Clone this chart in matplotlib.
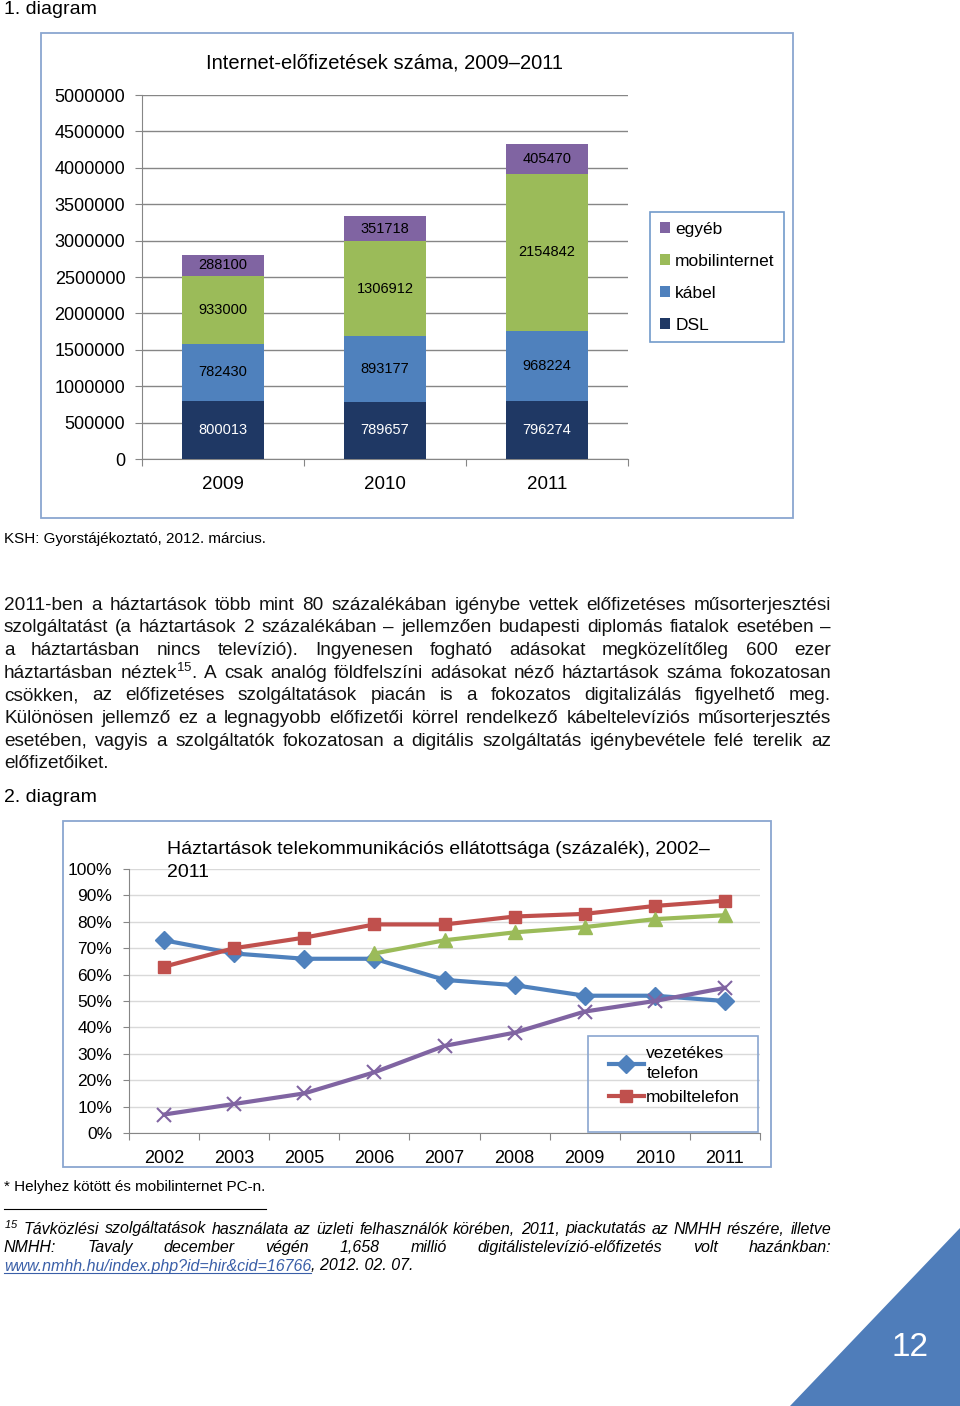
import numpy as np
import matplotlib
matplotlib.use('Agg')
import matplotlib.pyplot as plt
from matplotlib import font_manager as fm
from matplotlib.patches import Rectangle, Polygon
from matplotlib.lines import Line2D

W, H = 960, 1406

# --- 1. diagram: Internet-elofizetesek szama
years1 = ['2009', '2010', '2011']
dsl = [800013, 789657, 796274]
kabel = [782430, 893177, 968224]
mobilnet = [933000, 1306912, 2154842]
egyeb = [288100, 351718, 405470]

# --- 2. diagram: Haztartasok telekommunikacios ellatottsaga (%)
years2 = ['2002', '2003', '2005', '2006', '2007', '2008', '2009', '2010', '2011']
vezetekes = [73, 68, 66, 66, 58, 56, 52, 52, 50]
mobiltel = [63, 70, 74, 79, 79, 82, 83, 86, 88]
zold = [np.nan, np.nan, np.nan, 68, 73, 76, 78, 81, 82.5]
lila = [7, 11, 15, 23, 33, 38, 46, 50, 55]

avail = {f.name for f in fm.fontManager.ttflist}
NARROW = 'Liberation Sans Narrow' if 'Liberation Sans Narrow' in avail else 'Liberation Sans'
SANS = 'Liberation Sans'

plt.rcParams['font.family'] = [SANS, 'DejaVu Sans']
plt.rcParams['mathtext.default'] = 'regular'

fig = plt.figure(figsize=(W / 100, H / 100), dpi=100)
renderer = fig.canvas.get_renderer()


def fx(x):
    return x / W


def fy(y):
    return 1 - y / H


def text_w(s, **kw):
    t = fig.text(0, 0, s, **kw)
    w = t.get_window_extent(renderer).width
    t.remove()
    return w


def justified(lines, y0, dy, x0, x1, fs0, last_plain=True, **kw):
    # pick a size so the widest line just fits
    widest = max(text_w(l, fontsize=fs0, **kw) for l in lines)
    fs = fs0 * 0.985 * (x1 - x0) / widest
    for i, line in enumerate(lines):
        y = y0 + i * dy
        if last_plain and i == len(lines) - 1:
            fig.text(fx(x0), fy(y), line, fontsize=fs, va='center', **kw)
            continue
        words = line.split(' ')
        ws = [text_w(w, fontsize=fs, **kw) for w in words]
        gap = (x1 - x0 - sum(ws)) / max(len(words) - 1, 1)
        x = x0
        for w, wd in zip(words, ws):
            fig.text(fx(x), fy(y), w, fontsize=fs, va='center', **kw)
            x += wd + gap
    return fs


# page texts
fig.text(fx(4), fy(10), '1. diagram', fontsize=14, family=NARROW, va='center')
fig.text(fx(4), fy(539), 'KSH: Gyorstájékoztató, 2012. március.', fontsize=11, family=NARROW, va='center')
fig.text(fx(4), fy(797), '2. diagram', fontsize=14, family=NARROW, va='center')
fig.text(fx(4), fy(1187), '* Helyhez kötött és mobilinternet PC-n.', fontsize=11, family=NARROW, va='center')

para = [
    '2011-ben a háztartások több mint 80 százalékában igénybe vettek előfizetéses műsorterjesztési',
    'szolgáltatást (a háztartások 2 százalékában – jellemzően budapesti diplomás fiatalok esetében –',
    'a háztartásban nincs televízió). Ingyenesen fogható adásokat megközelítőleg 600 ezer',
    'háztartásban néztek$^{15}$. A csak analóg földfelszíni adásokat néző háztartások száma fokozatosan',
    'csökken, az előfizetéses szolgáltatások piacán is a fokozatos digitalizálás figyelhető meg.',
    'Különösen jellemző ez a legnagyobb előfizetői körrel rendelkező kábeltelevíziós műsorterjesztés',
    'esetében, vagyis a szolgáltatók fokozatosan a digitális szolgáltatás igénybevétele felé terelik az',
    'előfizetőiket.',
]
justified(para, 605, 22.7, 4, 831, 13.5, family=NARROW, color='#111111')

foot = [
    '$^{15}$ Távközlési szolgáltatások használata az üzleti felhasználók körében, 2011, piackutatás az NMHH részére, illetve',
    'NMHH: Tavaly december végén 1,658 millió digitálistelevízió-előfizetés volt hazánkban:',
]
ffs = justified(foot, 1229, 18.5, 4, 831, 11, last_plain=False, family=NARROW, style='italic')
link = 'www.nmhh.hu/index.php?id=hir&cid=16766'
lt = fig.text(fx(4), fy(1266), link, fontsize=ffs, family=NARROW, style='italic', color='#3a5fa8', va='center')
lw_ = lt.get_window_extent(renderer).width
fig.add_artist(Line2D([fx(4), fx(4 + lw_)], [fy(1273)] * 2, color='#3a5fa8', lw=0.8))
fig.text(fx(4 + lw_), fy(1266), ', 2012. 02. 07.', fontsize=ffs, family=NARROW, style='italic', va='center')
fig.add_artist(Line2D([fx(4), fx(266)], [fy(1209)] * 2, color='black', lw=0.8))

# page corner
fig.add_artist(Polygon([(fx(790), 0), (1, 0), (1, fy(1228))], closed=True,
                       transform=fig.transFigure, color='#4F7DBA', lw=0))
fig.text(fx(910), fy(1347), '12', fontsize=24, color='white', ha='center', va='center')

# chart frames
fig.add_artist(Rectangle((fx(41), fy(518)), 752 / W, 485 / H, transform=fig.transFigure,
                         fill=False, ec='#8AA6D0', lw=1.3))
fig.add_artist(Rectangle((fx(63), fy(1167)), 708 / W, 346 / H, transform=fig.transFigure,
                         fill=False, ec='#8AA6D0', lw=1.3))

# ---------------- chart 1
ax1 = fig.add_axes([fx(142), fy(459), 486 / W, 364 / H])
x1 = np.arange(len(years1))
bottom = np.zeros(len(years1))
series1 = [('DSL', dsl, '#1F3864', 'white'),
           ('kábel', kabel, '#4F81BD', 'black'),
           ('mobilinternet', mobilnet, '#9BBB59', 'black'),
           ('egyéb', egyeb, '#8064A2', 'black')]
handles = []
for name, vals, col, tcol in series1:
    b = ax1.bar(x1, vals, 0.506, bottom=bottom, color=col, label=name, zorder=3)
    ax1.bar_label(b, labels=[str(v) for v in vals], label_type='center', fontsize=10.5, color=tcol)
    bottom += np.array(vals)
    handles.append(b)

ax1.set_xlim(-0.5, 2.5)
ax1.set_ylim(0, 5000000)
ax1.set_yticks(np.arange(0, 5000001, 500000))
ax1.set_yticklabels([str(v) for v in range(0, 5000001, 500000)], fontsize=13)
ax1.set_xticks([-0.5, 0.5, 1.5, 2.5])
ax1.set_xticklabels([])
ax1.set_xticks(x1, minor=True)
ax1.set_xticklabels(years1, minor=True, fontsize=13.5)
ax1.tick_params(axis='x', which='major', length=5, color='#868686')
ax1.tick_params(axis='x', which='minor', length=0, pad=12)
ax1.tick_params(axis='y', length=5, color='#868686', pad=7)
ax1.grid(axis='y', color='#868686', lw=1, zorder=0)
for s in ['top', 'right']:
    ax1.spines[s].set_visible(False)
for s in ['left', 'bottom']:
    ax1.spines[s].set_color('#868686')
fig.text(fx(385), fy(63), 'Internet-előfizetések száma, 2009–2011', fontsize=14.5,
         family=NARROW, ha='center', va='center', color='black')

leg1 = ax1.legend(handles[::-1], [s[0] for s in series1][::-1], loc='upper left',
                  bbox_to_anchor=(fx(650), fy(212)), bbox_transform=fig.transFigure,
                  borderaxespad=0, fancybox=False, edgecolor='#4F81BD',
                  handlelength=0.6, handleheight=0.6, handletextpad=0.3,
                  labelspacing=0.98, borderpad=0.55, fontsize=12.5)
leg1.get_frame().set_linewidth(1.2)

# ---------------- chart 2
ax2 = fig.add_axes([fx(129), fy(1133), 631 / W, 264 / H])
x2 = np.arange(len(years2))
l_vez, = ax2.plot(x2, vezetekes, color='#4F81BD', lw=3, marker='D', ms=9, zorder=4)
l_mob, = ax2.plot(x2, mobiltel, color='#C0504D', lw=3, marker='s', ms=9, zorder=4)
ax2.plot(x2, zold, color='#9BBB59', lw=3, marker='^', ms=10, zorder=4)
ax2.plot(x2, lila, color='#8064A2', lw=3, marker='x', ms=10, mew=1.5, zorder=4)
ax2.set_xlim(-0.5, len(years2) - 0.5)
ax2.set_ylim(0, 100)
ax2.set_yticks(range(0, 101, 10))
ax2.set_yticklabels(['%d%%' % v for v in range(0, 101, 10)], fontsize=12.5)
ax2.set_xticks(np.arange(-0.5, len(years2), 1))
ax2.set_xticklabels([])
ax2.set_xticks(x2, minor=True)
ax2.set_xticklabels(years2, minor=True, fontsize=13)
ax2.tick_params(axis='x', which='major', length=5, color='#868686')
ax2.tick_params(axis='x', which='minor', length=0, pad=12)
ax2.tick_params(axis='y', length=4, color='#868686', pad=8)
ax2.grid(axis='y', color='#D9D9D9', lw=1, zorder=0)
for s in ['top', 'right']:
    ax2.spines[s].set_visible(False)
for s in ['left', 'bottom']:
    ax2.spines[s].set_color('#868686')
fig.text(fx(167), fy(861), 'Háztartások telekommunikációs ellátottsága (százalék), 2002–\n2011',
         fontsize=14, family=NARROW, ha='left', va='center', linespacing=1.45, color='black')

fig.add_artist(Rectangle((fx(588), fy(1132)), 170 / W, 96 / H, transform=fig.transFigure,
                         fill=False, ec='#8AA6D0', lw=1.2, zorder=5))
leg2 = fig.legend([l_vez, l_mob], ['vezetékes\ntelefon', 'mobiltelefon'], loc='upper left',
                  bbox_to_anchor=(fx(602), fy(1039)), bbox_transform=fig.transFigure,
                  borderaxespad=0, frameon=False, handlelength=2.0, handletextpad=0.15,
                  labelspacing=0.5, fontsize=12.5)
for t in leg2.get_texts():
    t.set_linespacing(1.45)
leg2.set_zorder(6)

fig.savefig('out.png', dpi=100)
